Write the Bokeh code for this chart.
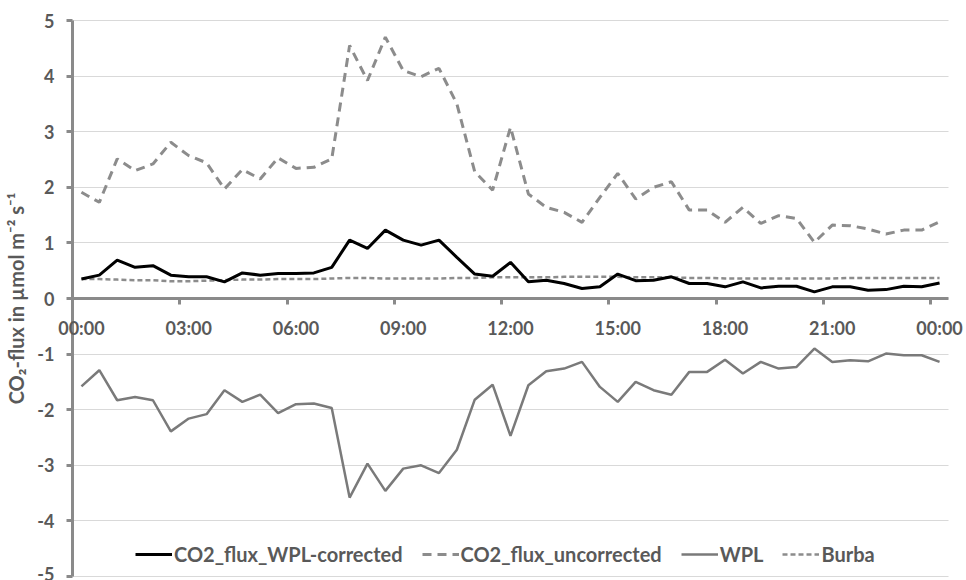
from bokeh.plotting import figure
from bokeh.models import Range1d, FixedTicker, Legend, LegendItem, ColumnDataSource, Label
from bokeh.embed import file_html
from bokeh.resources import INLINE

# half-hourly time stamps over one day (00:00 ... 00:00)
times = ["00:00", "00:30", "01:00", "01:30", "02:00", "02:30", "03:00", "03:30",
         "04:00", "04:30", "05:00", "05:30", "06:00", "06:30", "07:00", "07:30",
         "08:00", "08:30", "09:00", "09:30", "10:00", "10:30", "11:00", "11:30",
         "12:00", "12:30", "13:00", "13:30", "14:00", "14:30", "15:00", "15:30",
         "16:00", "16:30", "17:00", "17:30", "18:00", "18:30", "19:00", "19:30",
         "20:00", "20:30", "21:00", "21:30", "22:00", "22:30", "23:00", "23:30",
         "00:00"]

co2_wpl_corrected = [0.35, 0.42, 0.69, 0.56, 0.59, 0.42, 0.39, 0.39, 0.30, 0.46,
                     0.42, 0.45, 0.45, 0.46, 0.56, 1.05, 0.90, 1.23, 1.05, 0.96,
                     1.05, 0.74, 0.44, 0.40, 0.65, 0.30, 0.33, 0.27, 0.18, 0.21,
                     0.44, 0.32, 0.33, 0.39, 0.27, 0.27, 0.21, 0.30, 0.19, 0.22,
                     0.22, 0.12, 0.21, 0.21, 0.15, 0.16, 0.22, 0.21, 0.28]

co2_uncorrected = [1.91, 1.73, 2.51, 2.30, 2.42, 2.81, 2.57, 2.44, 1.97, 2.32,
                   2.15, 2.53, 2.34, 2.36, 2.51, 4.55, 3.92, 4.70, 4.10, 3.99,
                   4.14, 3.50, 2.28, 1.95, 3.08, 1.88, 1.64, 1.55, 1.37, 1.82,
                   2.25, 1.79, 2.00, 2.10, 1.59, 1.59, 1.37, 1.64, 1.35, 1.49,
                   1.44, 1.01, 1.32, 1.31, 1.25, 1.16, 1.23, 1.23, 1.38]

wpl = [-1.58, -1.29, -1.83, -1.77, -1.83, -2.39, -2.16, -2.08, -1.65, -1.86,
       -1.73, -2.06, -1.90, -1.89, -1.97, -3.58, -2.97, -3.46, -3.06, -3.00,
       -3.14, -2.72, -1.82, -1.55, -2.47, -1.56, -1.31, -1.26, -1.14, -1.59,
       -1.86, -1.50, -1.65, -1.73, -1.32, -1.32, -1.10, -1.35, -1.14, -1.26,
       -1.23, -0.90, -1.14, -1.11, -1.13, -0.99, -1.02, -1.02, -1.14]

burba = [0.35, 0.35, 0.34, 0.33, 0.33, 0.31, 0.31, 0.32, 0.33, 0.34,
         0.34, 0.35, 0.35, 0.35, 0.36, 0.37, 0.37, 0.36, 0.36, 0.36,
         0.36, 0.37, 0.37, 0.38, 0.38, 0.38, 0.38, 0.39, 0.39, 0.39,
         0.39, 0.38, 0.38, 0.38, 0.37, 0.37, 0.36, 0.36, 0.36, 0.36,
         0.36, 0.36, 0.36, 0.37, 0.37, 0.37, 0.37, 0.37, 0.37]

series_names = ["CO2_flux_WPL-corrected", "CO2_flux_uncorrected", "WPL", "Burba"]
y_ticks = [-5, -4, -3, -2, -1, 0, 1, 2, 3, 4, 5]
y_tick_labels = ["-5", "-4", "-3", "-2", "-1", "0", "1", "2", "3", "4", "5"]
label_every = 6

FONT = "Lato"
TEXT = "#595959"
AXIS = "#8a8a8a"

W, H = 966, 580
PLOT_L, PLOT_R, PLOT_T, PLOT_B = 72, 948, 20, 576   # data area in pixels

n = len(times)
idx = list(range(n))
src = ColumnDataSource(dict(x=idx, corr=co2_wpl_corrected, unc=co2_uncorrected,
                            wpl=wpl, burba=burba))

# frame covers the whole canvas so that nothing is clipped; ranges are widened
# so that the data area still sits where it is in the reference
x0, x1 = -0.5, n - 0.5
px_x = (PLOT_R - PLOT_L) / (x1 - x0)
y0, y1 = y_ticks[0], y_ticks[-1]
px_y = (PLOT_B - PLOT_T) / (y1 - y0)
x_range = Range1d(x0 - PLOT_L / px_x, x1 + (W - PLOT_R) / px_x)
y_range = Range1d(y0 - (H - PLOT_B) / px_y, y1 + PLOT_T / px_y)

p = figure(width=W, height=H, output_backend="svg", toolbar_location=None,
           x_range=x_range, y_range=y_range,
           min_border_left=0, min_border_right=0, min_border_top=0,
           min_border_bottom=0)
p.outline_line_color = None
p.background_fill_color = "white"
p.xgrid.visible = False
yg = p.ygrid[0]
yg.ticker = FixedTicker(ticks=y_ticks, minor_ticks=[])
yg.grid_line_color = "#d9d9d9"
yg.grid_line_width = 1
if "cross_bounds" in yg.properties():
    yg.cross_bounds = (x0, x1)
else:
    yg.visible = False
    p.segment(x0=[x0] * len(y_ticks), x1=[x1] * len(y_ticks), y0=y_ticks, y1=y_ticks,
              line_color="#d9d9d9", line_width=1, level="underlay")

# y axis at the left edge of the data area
ya = p.yaxis[0]
ya.fixed_location = x0
ya.bounds = (y0, y1)
ya.ticker = FixedTicker(ticks=y_ticks, minor_ticks=[])
ya.major_label_overrides = dict(zip(y_ticks, y_tick_labels))
ya.axis_line_color = AXIS
ya.axis_line_width = 3
ya.major_tick_line_color = AXIS
ya.major_tick_line_width = 3
ya.major_tick_out = 6
ya.major_tick_in = 0
ya.minor_tick_line_color = None
ya.major_label_standoff = 12
ya.major_label_text_font = FONT
ya.major_label_text_font_style = "bold"
ya.major_label_text_font_size = "18px"
ya.major_label_text_color = TEXT
ya.axis_label = "CO\u2082-flux in \u00b5mol m\u207b\u00b2 s\u207b\u00b9"
ya.axis_label_text_font = FONT
ya.axis_label_text_font_style = "bold"
ya.axis_label_text_font_size = "20px"
ya.axis_label_text_color = TEXT
ya.axis_label_standoff = 6

# x axis crossing at y = 0, tick marks at category boundaries
label_pos = list(range(0, n, label_every))
bound_pos = [i - 0.5 for i in range(label_every, n, label_every)]
xa = p.xaxis[0]
xa.fixed_location = 0
xa.bounds = (x0, x1)
xa.ticker = FixedTicker(ticks=bound_pos, minor_ticks=[])
xa.major_label_overrides = {b: "" for b in bound_pos}
xa.axis_line_color = AXIS
xa.axis_line_width = 3
xa.major_tick_out = 6
xa.major_tick_in = 0
xa.major_tick_line_color = AXIS
xa.major_tick_line_width = 3
xa.minor_tick_line_color = None
xa.major_label_text_font_size = "1px"

# time labels at the category centres, just below the zero line
for i in label_pos:
    p.add_layout(Label(x=i, y=0, x_units="data", y_units="data", text=times[i],
                       y_offset=-29, text_align="center", text_baseline="middle",
                       text_font=FONT, text_font_style="bold",
                       text_font_size="18px", text_color=TEXT))

r_burba = p.line("x", "burba", source=src, line_color="#8c8c8c", line_width=2.5,
                 line_dash="5 3")
r_wpl = p.line("x", "wpl", source=src, line_color="#7a7a7a", line_width=2.5)
r_unc = p.line("x", "unc", source=src, line_color="#8c8c8c", line_width=3,
               line_dash="9 6")
r_corr = p.line("x", "corr", source=src, line_color="#000000", line_width=3)

legend = Legend(items=[LegendItem(label=series_names[0], renderers=[r_corr]),
                       LegendItem(label=series_names[1], renderers=[r_unc]),
                       LegendItem(label=series_names[2], renderers=[r_wpl]),
                       LegendItem(label=series_names[3], renderers=[r_burba])],
                location=(135, 14), orientation="horizontal",
                border_line_color=None, background_fill_alpha=0,
                label_text_font=FONT, label_text_font_style="bold",
                label_text_font_size="20px", label_text_color=TEXT,
                glyph_width=37, label_standoff=2, spacing=19, padding=0,
                margin=0)
p.add_layout(legend, "center")

open("out.html", "w").write(file_html(p, INLINE))
